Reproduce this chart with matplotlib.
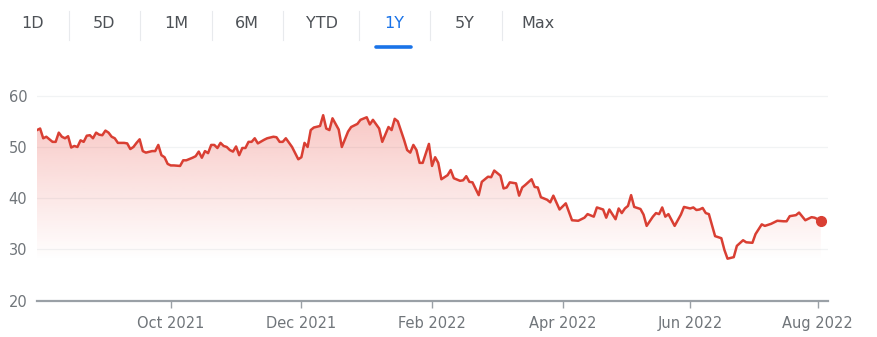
import numpy as np
import pandas as pd
import matplotlib
matplotlib.use('Agg')
import matplotlib.pyplot as plt
from matplotlib.patches import Polygon
from matplotlib.lines import Line2D
from matplotlib.colors import to_rgb

# trading calendar for the 1Y window
holidays = ['2021-09-06', '2021-11-25', '2021-12-24', '2022-01-17', '2022-02-21',
            '2022-04-15', '2022-05-30', '2022-06-20', '2022-07-04']
trading_days = pd.bdate_range('2021-08-02', '2022-08-02', freq='C', holidays=holidays)

# session number (trading day since 2 Aug 2021) and closing price
session = [0, 1, 2, 3, 5, 6, 7, 8, 9, 10, 11, 12, 13, 14, 15, 16, 17, 18, 19, 20,
           21, 22, 23, 24, 25, 26, 28, 29, 30, 31, 32, 33, 34, 35, 37, 38, 39, 40, 41, 42,
           43, 44, 46, 47, 48, 50, 51, 52, 53, 54, 55, 56, 57, 58, 59, 60, 61, 62, 63, 64,
           65, 66, 67, 68, 69, 70, 71, 73, 74, 76, 77, 78, 79, 80, 82, 84, 85, 86, 87, 88,
           89, 91, 92, 93, 94, 95, 97, 98, 100, 101, 103, 104, 106, 107, 108, 110, 111, 113, 114, 115,
           116, 118, 119, 120, 121, 122, 123, 124, 126, 127, 128, 129, 130, 132, 133, 134, 136, 137, 138, 139,
           140, 142, 143, 145, 146, 147, 148, 149, 150, 151, 152, 154, 155, 156, 157, 159, 160, 161, 162, 164,
           165, 166, 168, 170, 172, 174, 176, 177, 179, 180, 182, 183, 184, 186, 187, 188, 189, 190, 191, 192,
           194, 195, 196, 198, 199, 200, 201, 202, 203, 205, 207, 208, 210, 211, 212, 213, 214, 215, 216, 218,
           220, 221, 222, 224, 225, 227, 228, 230, 231, 233, 234, 236, 238, 240, 241, 242, 244, 245, 247, 249,
           250, 252]
price = [53.3, 53.6, 51.7, 52.0, 51.0, 51.0, 52.8, 52.0, 51.7, 52.1, 49.9, 50.2, 50.0, 51.3, 51.0, 52.2, 52.3, 51.7, 52.8, 52.4,
         52.3, 53.2, 52.8, 52.0, 51.7, 50.8, 50.8, 50.7, 49.6, 50.0, 50.8, 51.5, 49.2, 48.9, 49.2, 49.2, 50.4, 48.4, 48.0, 46.7,
         46.4, 46.4, 46.3, 47.4, 47.4, 47.9, 48.2, 49.1, 47.9, 49.2, 48.8, 50.4, 50.4, 49.8, 50.8, 50.2, 50.0, 49.4, 49.1, 50.1,
         48.4, 49.8, 49.8, 51.0, 51.0, 51.7, 50.7, 51.4, 51.7, 52.0, 51.9, 51.0, 51.0, 51.7, 50.0, 47.6, 48.0, 50.8, 50.0, 53.3,
         53.8, 54.1, 56.2, 53.6, 53.3, 55.6, 53.4, 50.0, 53.0, 53.9, 54.5, 55.3, 55.8, 54.4, 55.3, 53.6, 51.0, 53.9, 53.3, 55.5,
         55.0, 51.4, 49.4, 48.9, 50.4, 49.4, 46.9, 46.9, 50.6, 46.3, 48.0, 46.9, 43.7, 44.5, 45.5, 43.9, 43.4, 43.5, 44.3, 43.2,
         43.1, 40.6, 43.2, 44.2, 44.1, 45.4, 44.9, 44.4, 41.9, 42.1, 43.1, 42.9, 40.5, 42.1, 42.6, 43.7, 42.2, 42.1, 40.2, 39.7,
         39.2, 40.5, 37.8, 39.0, 35.7, 35.6, 36.2, 36.9, 36.4, 38.2, 37.8, 36.2, 37.8, 35.9, 38.0, 37.1, 38.0, 38.5, 40.6, 38.3,
         37.9, 36.8, 34.6, 36.4, 37.1, 36.9, 38.2, 36.4, 36.9, 34.6, 36.8, 38.3, 38.0, 38.2, 37.7, 37.8, 38.1, 37.1, 36.9, 32.6,
         32.2, 29.9, 28.2, 28.5, 30.7, 31.8, 31.4, 31.3, 33.0, 34.9, 34.6, 35.0, 35.6, 35.5, 35.5, 36.5, 36.7, 37.2, 35.7, 36.3,
         36.2, 35.6]

tick_months = ['2021-10-01', '2021-12-01', '2022-02-01', '2022-04-01', '2022-06-01', '2022-08-01']
tick_labels = ['Oct 2021', 'Dec 2021', 'Feb 2022', 'Apr 2022', 'Jun 2022', 'Aug 2022']
y_ticks = [20, 30, 40, 50, 60]
tabs = ['1D', '5D', '1M', '6M', 'YTD', '1Y', '5Y', 'Max']
active_tab = '1Y'

dates = trading_days[session]
red = '#d93f33'
grey = '#70757a'

W, H = 877, 337
fig = plt.figure(figsize=(W / 100, H / 100), dpi=100)

def fx(px):
    return px / W

def fy(py):
    return 1 - py / H

# chart area
ax = fig.add_axes([fx(37), fy(300.7), fx(828) - fx(37), fy(85.5) - fy(300.7)])
ax.set_xlim(0, 254.3)
ax.set_ylim(20, 62)

for v in y_ticks[1:]:
    ax.axhline(v, color='#f1f3f4', lw=0.9, zorder=0)

x = np.array(session, dtype=float)
y = np.array(price)

# gradient fill under the line
grad = np.zeros((256, 1, 4))
grad[..., :3] = to_rgb('#e8453c')
grad[:, 0, 3] = np.linspace(0, 0.30, 256)
img = ax.imshow(grad, aspect='auto', origin='lower', extent=[0, 254.3, 28, 56.5],
                interpolation='bilinear', zorder=1)
verts = np.column_stack([np.r_[x, x[-1], x[0]], np.r_[y, 20, 20]])
clip = Polygon(verts, closed=True, transform=ax.transData, facecolor='none', edgecolor='none')
ax.add_patch(clip)
img.set_clip_path(clip)

ax.plot(x, y, color=red, lw=1.8, solid_joinstyle='round', zorder=3)
ax.plot(x[-1], y[-1], 'o', color=red, ms=7, zorder=4)

for s in ['top', 'right', 'left']:
    ax.spines[s].set_visible(False)
ax.spines['bottom'].set_color('#9aa0a6')
ax.spines['bottom'].set_linewidth(1.6)

tick_pos = [trading_days.searchsorted(pd.Timestamp(m)) for m in tick_months]
ax.set_xticks(tick_pos)
ax.set_xticklabels(tick_labels)
ax.set_yticks(y_ticks)
ax.set_yticklabels([str(v) for v in y_ticks])
ax.tick_params(axis='x', direction='out', length=5, width=1, color='#9aa0a6',
               labelcolor=grey, labelsize=10.5, pad=6)
ax.tick_params(axis='y', length=0, labelcolor=grey, labelsize=10.5, pad=7)

# range tabs on top
tab_x = [33, 104, 176, 247, 322, 394, 465, 538]
sep_x = [69, 140, 212, 283, 359, 430, 502]
for label, px in zip(tabs, tab_x):
    fig.text(fx(px), fy(23), label, ha='center', va='center', fontsize=11.5,
             color='#1a73e8' if label == active_tab else '#4d5156')
for px in sep_x:
    fig.add_artist(Line2D([fx(px), fx(px)], [fy(11), fy(40)], color='#e8eaed', lw=0.8))
fig.add_artist(Line2D([fx(376), fx(411)], [fy(46.5), fy(46.5)], color='#1a73e8', lw=2.6,
                      solid_capstyle='round'))

fig.savefig('out.png', dpi=100)
